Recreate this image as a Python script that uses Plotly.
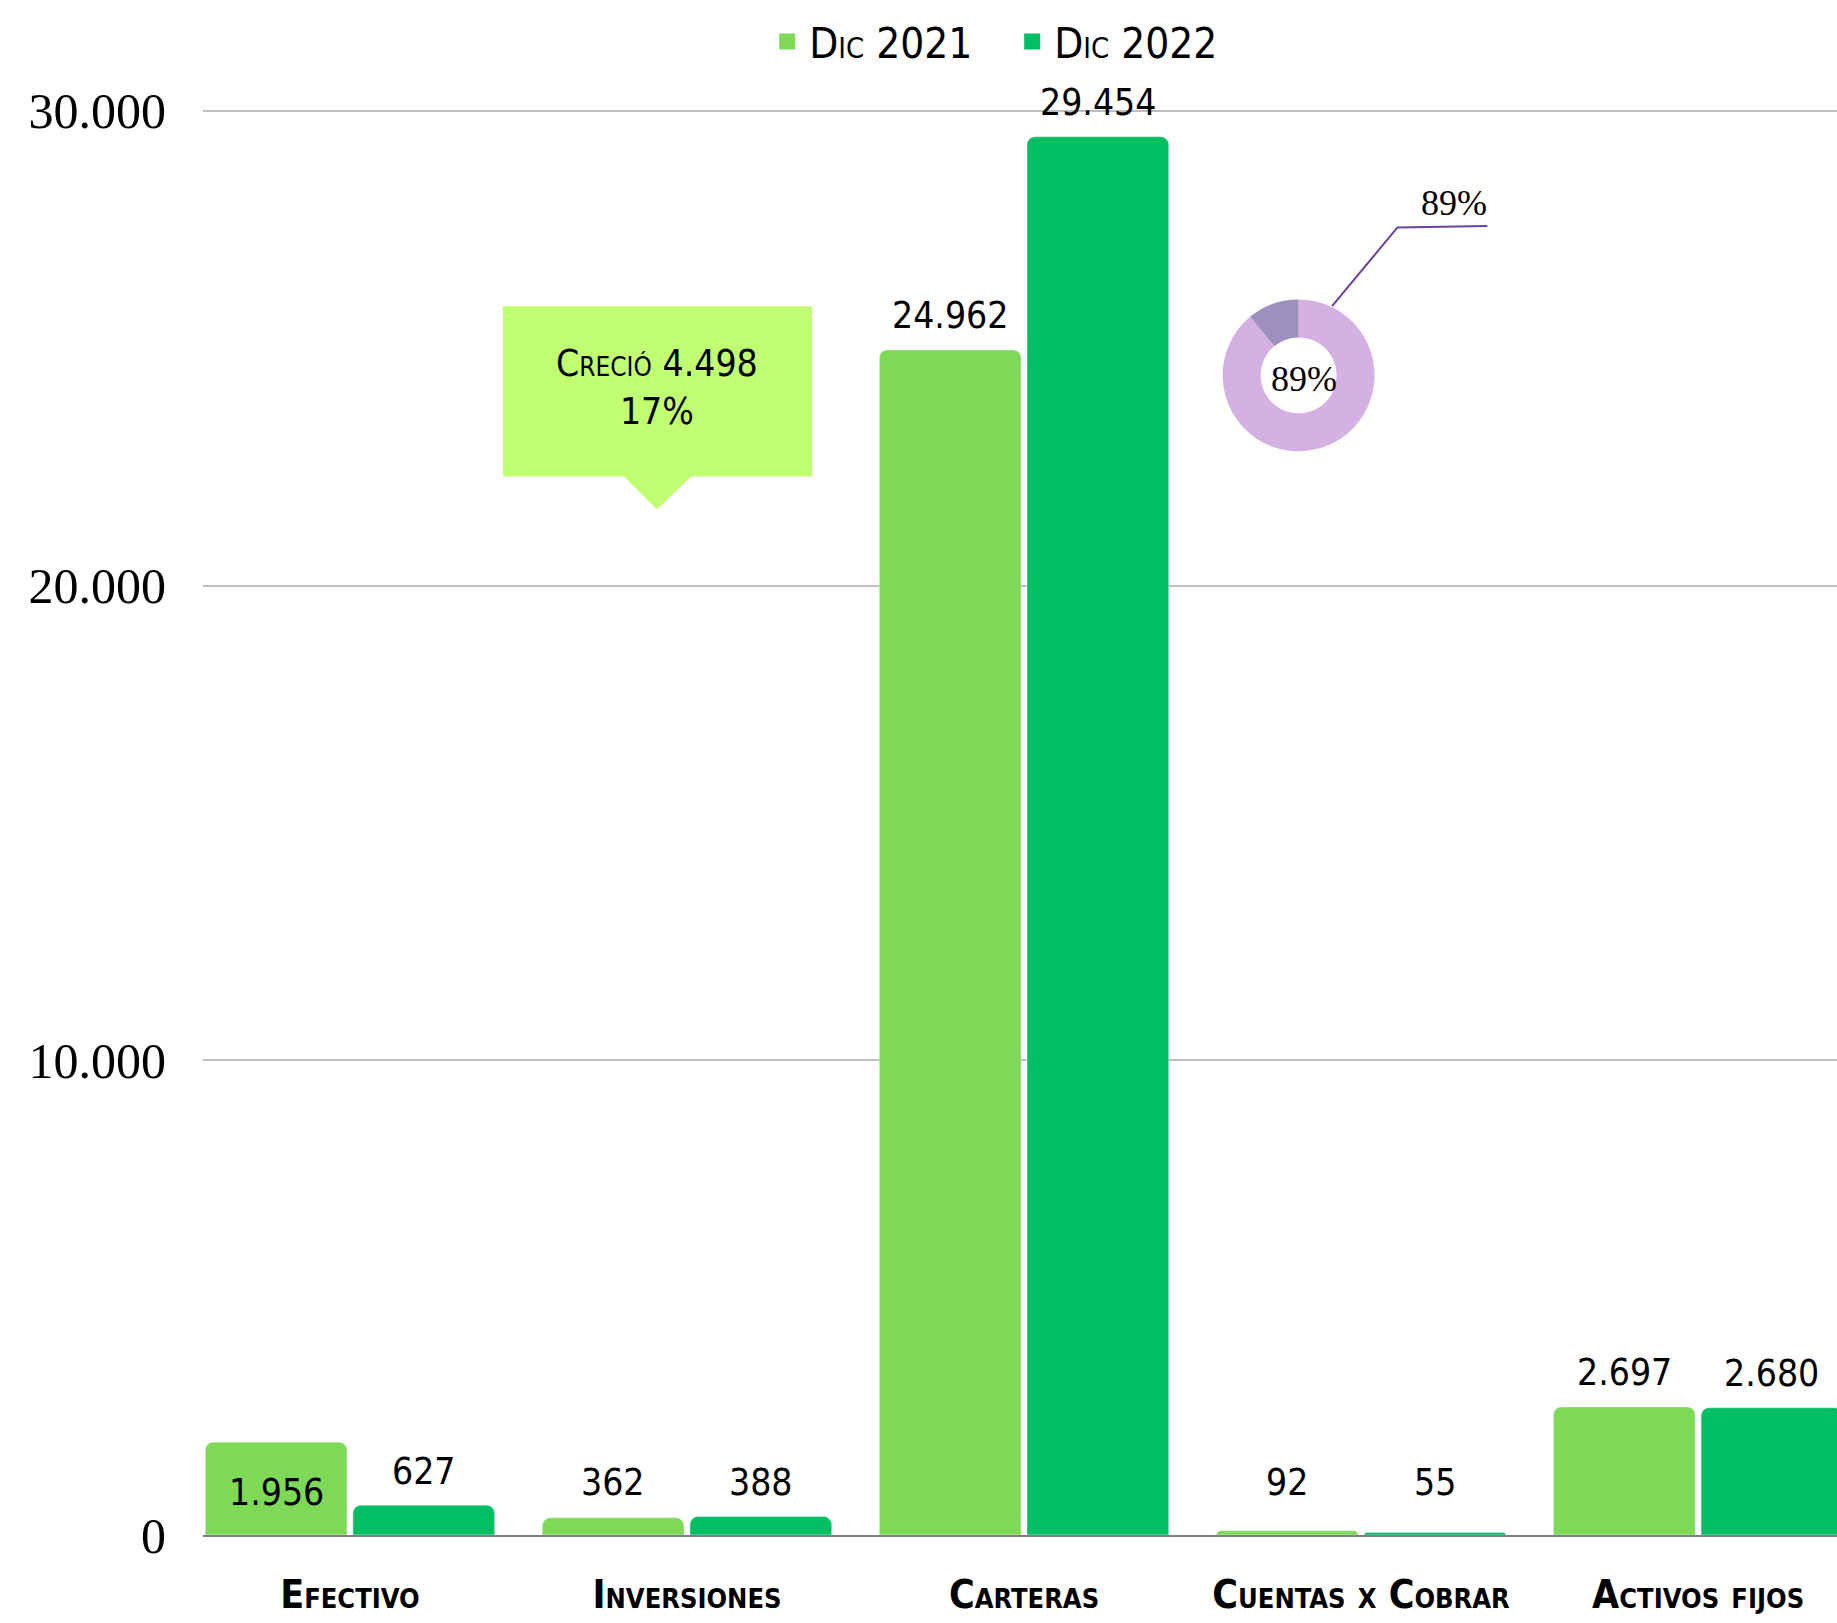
import plotly.graph_objects as go

categories = ["Efectivo", "Inversiones", "Carteras", "Cuentas x Cobrar", "Activos fijos"]
dic_2021 = [1956, 362, 24962, 92, 2697]
dic_2022 = [627, 388, 29454, 55, 2680]
series_names = ["Dic 2021", "Dic 2022"]
label_modes_2021 = ["inside", "outside", "outside", "outside", "outside"]
label_modes_2022 = ["outside", "outside", "outside", "outside", "outside"]
y_ticks = [0, 10000, 20000, 30000]
callout_lines = ["Creció 4.498", "17%"]
donut_values = [89, 11]
donut_label = "89%"

C21 = "#7ED957"
C22 = "#00BF63"
NARROW = "DejaVu Sans Condensed, Liberation Sans Narrow, sans-serif"
SERIF = "Liberation Serif, DejaVu Serif, serif"

BARGAP = 0.124
GROUPGAP = 0.04

def fmt(v):
    return f"{v:,}".replace(",", ".")

fig = go.Figure()
fig.add_trace(go.Bar(x=categories, y=dic_2021, name=series_names[0], marker_color=C21,
                     showlegend=False, hoverinfo="skip"))
fig.add_trace(go.Bar(x=categories, y=dic_2022, name=series_names[1], marker_color=C22,
                     showlegend=False, hoverinfo="skip"))
# legend proxies with larger square markers
for nm, col in zip(series_names, [C21, C22]):
    fig.add_trace(go.Scatter(x=[None], y=[None], mode="markers", name=nm,
                             marker=dict(symbol="square", size=18, color=col)))

# donut
fig.add_trace(go.Pie(values=donut_values, hole=0.5, sort=False, direction="clockwise",
                     rotation=0, textinfo="none", showlegend=False,
                     marker=dict(colors=["#D5B0E2", "#9D8FC0"], line=dict(width=0)),
                     domain=dict(x=[0.624, 0.717], y=[0.758, 0.865]), hoverinfo="skip"))

annotations = []
off = (1 - BARGAP) / 4.0
for vals, modes, sign in [(dic_2021, label_modes_2021, -1), (dic_2022, label_modes_2022, 1)]:
    for i, (v, m) in enumerate(zip(vals, modes)):
        if m == "inside":
            y, ys = v / 2.0, -4
        else:
            y, ys = max(v, 400), 34
        annotations.append(dict(x=i + sign * off, y=y, xref="x", yref="y", text=fmt(v),
                                showarrow=False, yshift=ys, yanchor="middle", xanchor="center",
                                font=dict(family=NARROW, size=37, color="black")))

# callout text
annotations.append(dict(x=0.911, y=24173, xref="x", yref="y",
                        text="<br>".join(callout_lines), showarrow=False,
                        xanchor="center", yanchor="middle",
                        font=dict(family=NARROW, size=37, color="black", variant="small-caps")))
# donut labels
annotations.append(dict(x=0.674, y=0.809, xref="paper", yref="paper", text=donut_label,
                        showarrow=False, xanchor="center", yanchor="middle",
                        font=dict(family=SERIF, size=36, color="black")))
annotations.append(dict(x=0.787, y=0.932, xref="paper", yref="paper", text=donut_label,
                        showarrow=False, xanchor="right", yanchor="middle",
                        font=dict(family=SERIF, size=36, color="black")))

shapes = [
    dict(type="path", xref="x", yref="y",
         path="M 0.454,25880 L 1.371,25880 L 1.371,22297 L 1.012,22297 L 0.911,21602 "
              "L 0.813,22297 L 0.454,22297 Z",
         fillcolor="#C1FF72", line=dict(width=0), layer="above"),
    dict(type="path", xref="paper", yref="paper",
         path="M 0.691,0.860 L 0.731,0.915 L 0.786,0.916",
         line=dict(color="#6B3FA0", width=2)),
]

fig.update_layout(
    width=1837, height=1623,
    margin=dict(l=203, r=0, t=106, b=88),
    paper_bgcolor="white", plot_bgcolor="white",
    barmode="group", bargap=BARGAP, bargroupgap=GROUPGAP, barcornerradius=8,
    separators=",.",
    showlegend=True,
    legend=dict(orientation="h", x=0.494, y=1.045, xanchor="center", yanchor="middle",
                font=dict(family=NARROW, size=42, color="black", variant="small-caps"),
                itemwidth=34, entrywidth=196, entrywidthmode="pixels",
                bgcolor="rgba(0,0,0,0)"),
    xaxis=dict(type="category", range=[-0.436, 4.412], showgrid=False,
               showline=True, linecolor="#7F7F7F", linewidth=2,
               tickfont=dict(family=NARROW, size=39, color="black", variant="small-caps",
                             weight="bold"),
               ticklabelstandoff=24, fixedrange=True),
    yaxis=dict(range=[0, 30100], tickvals=y_ticks, tickformat=",d",
               showgrid=True, gridcolor="#BFBFBF", gridwidth=2, zeroline=False,
               tickfont=dict(family=SERIF, size=50, color="black"),
               ticklabelstandoff=36, fixedrange=True),
    annotations=annotations, shapes=shapes,
)

fig.write_html("out.html", config={"displayModeBar": False},
               post_script="document.body.style.margin='0';")
